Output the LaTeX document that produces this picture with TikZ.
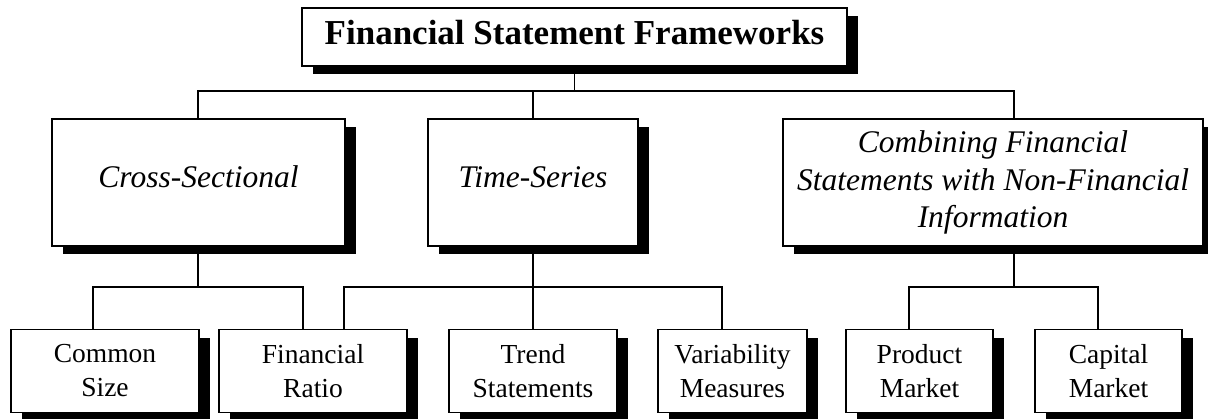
\documentclass[tikz,border=0pt]{standalone}
\usepackage{fontspec}
\setmainfont{Liberation Serif}
\usetikzlibrary{shadows}
\begin{document}
\begin{tikzpicture}[x=1pt,y=-1pt,
  box/.style={draw=black, fill=white, line width=1.3pt, inner sep=0pt, align=center,
    drop shadow={shadow xshift=10.5pt, shadow yshift=-8.5pt, fill=black, opacity=1}},
  titlebox/.style={box, font=\fontsize{35}{40}\selectfont\bfseries, text height=20pt, text depth=4pt},
  midbox/.style={box, font=\fontsize{31.5}{37.5}\selectfont\itshape},
  onebox/.style={midbox, text height=16pt, text depth=5pt},
  lowbox/.style={box, font=\fontsize{27.5}{34}\selectfont},
  link/.style={line width=1.3pt}]
\useasboundingbox (0,0) rectangle (1208,419);
% top
\node[titlebox, minimum width=545, minimum height=58] (title) at (574.5,37) {Financial Statement Frameworks};
% middle
\node[onebox, minimum width=293, minimum height=127] (cs) at (198.5,182.5) {Cross-Sectional};
\node[onebox, minimum width=210, minimum height=127] (ts) at (533,182.5) {Time-Series};
\node[midbox, minimum width=420, minimum height=127] (cb) at (993,182.5) {Combining Financial\\Statements with Non-Financial\\Information};
% bottom
\node[lowbox, minimum width=188, minimum height=83] (common) at (105,371) {Common\\Size};
\node[lowbox, minimum width=188, minimum height=83] (ratio) at (313,371) {Financial\\Ratio};
\node[lowbox, minimum width=168, minimum height=83] (trend) at (533,371) {Trend\\Statements};
\node[lowbox, minimum width=149, minimum height=83] (var) at (732.5,371) {Variability\\Measures};
\node[lowbox, minimum width=147, minimum height=83] (prod) at (919.5,371) {Product\\Market};
\node[lowbox, minimum width=147, minimum height=83] (cap) at (1108.5,371) {Capital\\Market};
% junction coordinates
\coordinate (b0) at (574.5,91);
\coordinate (cbt) at (1014,119);
\coordinate (cbb) at (1014,246);
\coordinate (csb) at (198,246);
\coordinate (cst) at (198,119);
\coordinate (commt) at (93,329.5);
\coordinate (ratt1) at (303,329.5);
\coordinate (ratt2) at (344,329.5);
\coordinate (vart) at (722,329.5);
\coordinate (prodt) at (909,329.5);
\coordinate (capt) at (1098,329.5);
% top bus
\draw[link] (title.south) -- (b0);
\draw[link] (cst) |- (b0) -| (cbt);
\draw[link] (ts.north) -- (ts.north |- b0);
% cross-sectional bus
\draw[link] (csb) -- (198,287);
\draw[link] (commt) |- (ratt1 |- 0,287) -- (ratt1);
% time-series bus
\draw[link] (ts.south) -- (trend.north);
\draw[link] (ratt2) |- (vart |- 0,287) -- (vart);
% combining bus
\draw[link] (cbb) -- (1014,287);
\draw[link] (prodt) |- (capt |- 0,287) -- (capt);
\end{tikzpicture}
\end{document}
